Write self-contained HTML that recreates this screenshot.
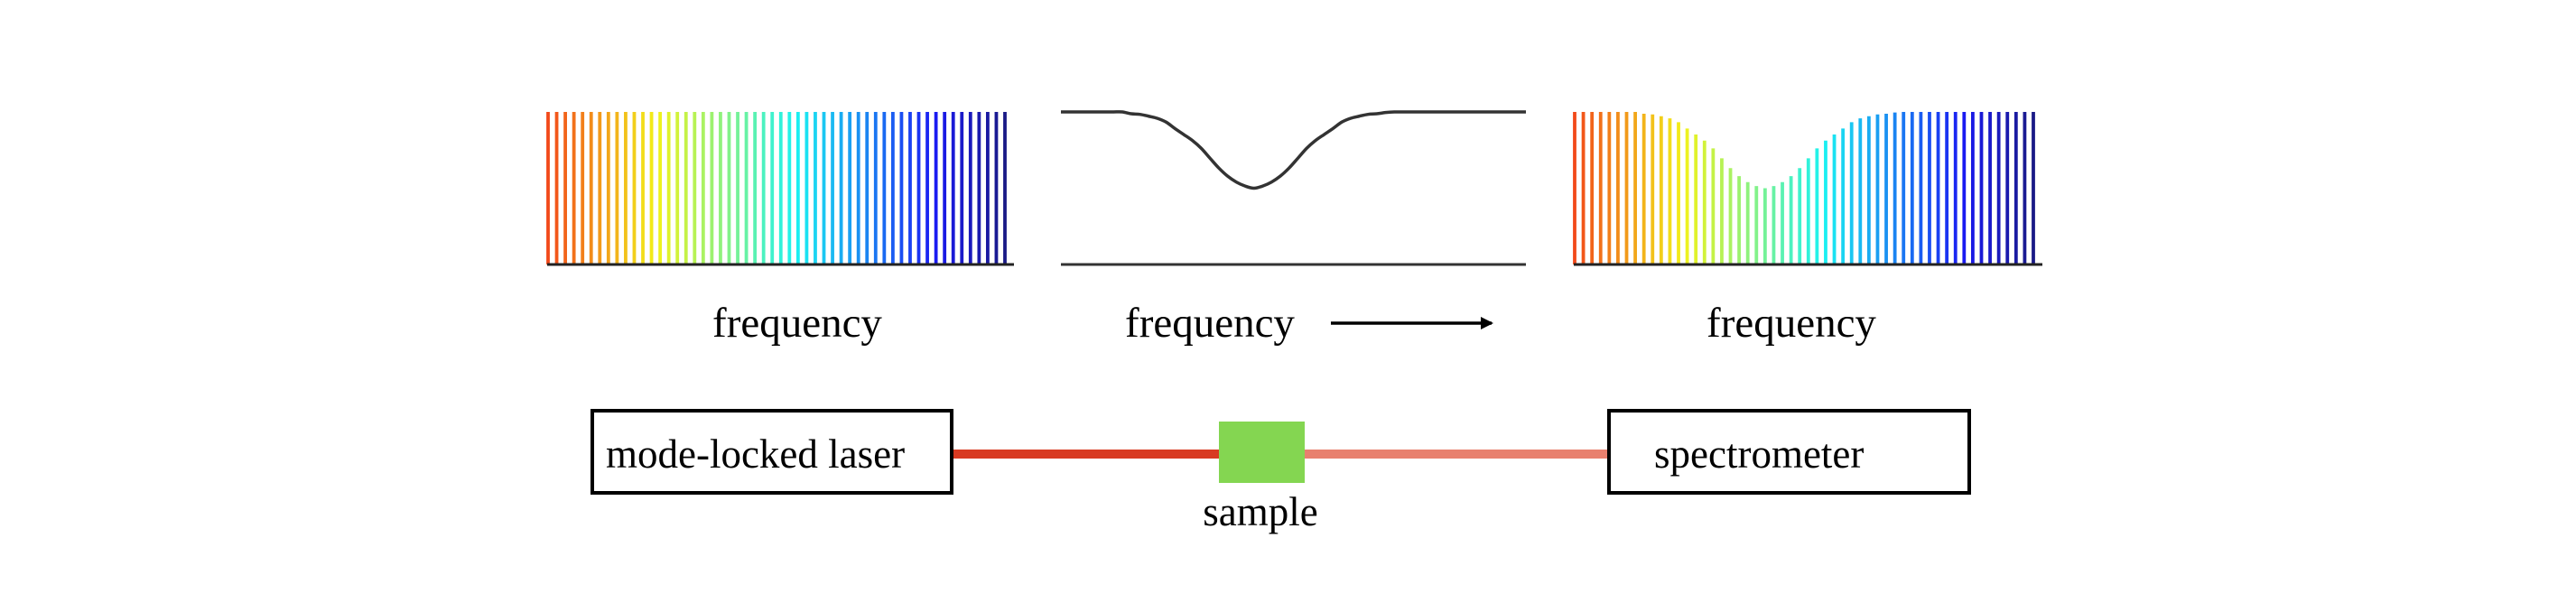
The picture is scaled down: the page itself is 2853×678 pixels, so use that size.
<!DOCTYPE html>
<html><head><meta charset="utf-8"><style>
html,body{margin:0;padding:0;background:#fff;width:2853px;height:678px;overflow:hidden}
svg{display:block}
text{font-family:"Liberation Serif",serif;fill:#000}
</style></head><body>
<svg id="fig" width="2853" height="678" viewBox="0 0 2853 678">
<defs><marker id="ah" markerWidth="14" markerHeight="14" refX="12" refY="7" orient="auto" markerUnits="userSpaceOnUse"><path d="M0,0 L14,7 L0,14 z" fill="#000"/></marker></defs>
<g id="p1"></g>
<g id="p2"></g>
<g id="p3"></g>
<text x="883" y="373" font-size="47" text-anchor="middle">frequency</text>
<text x="1340" y="373" font-size="47" text-anchor="middle">frequency</text>
<text x="1984" y="373" font-size="47" text-anchor="middle">frequency</text>
<line x1="1474" y1="358" x2="1652" y2="358" stroke="#000" stroke-width="3.5" marker-end="url(#ah)"/>
<rect x="1056" y="498" width="294" height="10" fill="#d83a22"/>
<rect x="1445" y="498" width="335" height="10" fill="#e8806e"/>
<rect x="656" y="455" width="398" height="91" fill="#fff" stroke="#000" stroke-width="4"/>
<text x="671" y="518" font-size="45">mode-locked laser</text>
<rect x="1350" y="467" width="95" height="68" fill="#84d651"/>
<text x="1396" y="582" font-size="45" text-anchor="middle">sample</text>
<rect x="1782" y="455" width="399" height="91" fill="#fff" stroke="#000" stroke-width="4"/>
<text x="1832" y="518" font-size="45">spectrometer</text>
</svg>
<script>
const combIndex=[];for(let i=0;i<54;i++)combIndex.push(i);
const transmission=[1,1,1,1,1,1,1,1,0.988,0.984,0.972,0.958,0.933,0.891,0.852,0.812,0.761,0.696,0.632,0.579,0.540,0.514,0.5,0.514,0.540,0.579,0.632,0.696,0.761,0.812,0.852,0.891,0.933,0.958,0.972,0.984,0.988,0.996,1,1,1,1,1,1,1,1,1,1,1,1,1,1,1,1];
const NS='http://www.w3.org/2000/svg';
const TOP=124,BASE=293;
function jet(v){const c=x=>Math.max(0,Math.min(1,x));
 const r=c(1.5-Math.abs(4*v-3)),g=c(1.5-Math.abs(4*v-2)),b=c(1.5-Math.abs(4*v-1));
 const m=x=>Math.round(255*(x*0.85+0.1));return 'rgb('+m(r)+','+m(g)+','+m(b)+')';}
function xs(x0,x1,i){return x0+(x1-x0)*i/(combIndex.length-1);}
function ys(v){return BASE-(BASE-TOP)*v;}
function mk(t,a,p){const e=document.createElementNS(NS,t);for(const k in a)e.setAttribute(k,a[k]);p.appendChild(e);return e;}
function comb(g,x0,x1,useT){
 combIndex.forEach(i=>{const v=useT?transmission[i]:1;
  const l=mk('line',{x1:xs(x0,x1,i),x2:xs(x0,x1,i),y1:BASE,y2:ys(v),stroke:jet(0.82-0.82*i/(combIndex.length-1)),'stroke-width':3.8},g);
  
  });
 const b=mk('line',{x1:x0-1,x2:x1+10,y1:BASE,y2:BASE,stroke:'#222','stroke-width':3},g);
 
 
}
const p1=document.getElementById('p1'),p2=document.getElementById('p2'),p3=document.getElementById('p3');
comb(p1,607,1113,false);
comb(p3,1744,2252,true);
const X0=1175,X1=1690;
const pts=transmission.map((v,i)=>[xs(X0,X1,i),ys(v)]);
let d='M'+pts[0][0]+','+pts[0][1];
for(let i=0;i<pts.length-1;i++){const p0=pts[Math.max(0,i-1)],a=pts[i],b=pts[i+1],q=pts[Math.min(pts.length-1,i+2)];
 d+=' C'+(a[0]+(b[0]-p0[0])/6)+','+(a[1]+(b[1]-p0[1])/6)+' '+(b[0]-(q[0]-a[0])/6)+','+(b[1]-(q[1]-a[1])/6)+' '+b[0]+','+b[1];}
const c=mk('path',{d:d,fill:'none',stroke:'#333','stroke-width':3.5},p2);


const bl=mk('line',{x1:X0,x2:X1,y1:BASE,y2:BASE,stroke:'#333','stroke-width':3},p2);


</script>
</body></html>
